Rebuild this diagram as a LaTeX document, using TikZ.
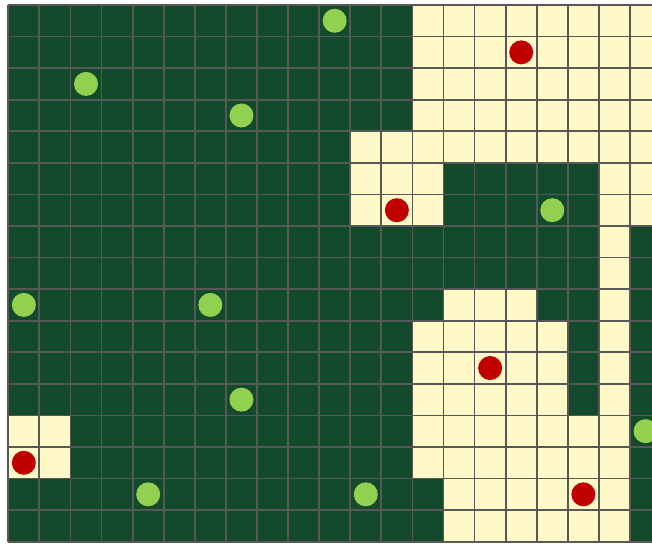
\documentclass[tikz,border=0pt]{standalone}
\definecolor{darkcell}{RGB}{20,74,44}
\definecolor{lightcell}{RGB}{255,249,199}
\definecolor{gridline}{RGB}{88,88,88}
\definecolor{greendot}{RGB}{146,208,80}
\definecolor{reddot}{RGB}{192,0,0}
\begin{document}
\begin{tikzpicture}[x=1pt,y=-1pt,
  gridstroke/.style={draw=gridline,line width=1.8pt},
  lightfill/.style={fill=lightcell},
  gdot/.style={fill=greendot},
  rdot/.style={fill=reddot}]
\def\cw{31.085}
\def\ch{31.57}
\def\ox{8.3}
\def\oy{5}
\useasboundingbox (0,0) rectangle (652,543);
\clip (0,0) rectangle (652,543);
\fill[white] (0,0) rectangle (652,543);
\fill[darkcell] (\ox,\oy) rectangle ({\ox+21*\cw},{\oy+17*\ch});
\foreach \r/\cols in {0/{13,...,20},1/{13,...,20},2/{13,...,20},3/{13,...,20},
  4/{11,...,20},5/{11,12,13,19,20},6/{11,12,13,19,20},7/{19},8/{19},
  9/{14,15,16,19},10/{13,14,15,16,17,19},11/{13,14,15,16,17,19},12/{13,14,15,16,17,19},
  13/{0,1,13,14,15,16,17,18,19},14/{0,1,13,14,15,16,17,18,19},
  15/{14,15,16,17,18,19},16/{14,15,16,17,18,19}}{
  \foreach \c in \cols {
    \fill[lightfill] ({\ox+\c*\cw},{\oy+\r*\ch}) rectangle ++(\cw,\ch);
  }
}
\foreach \i in {0,...,21}{
  \draw[gridstroke] ({\ox+\i*\cw},\oy) -- ++(0,{17*\ch});
}
\foreach \j in {0,...,17}{
  \draw[gridstroke] (\ox,{\oy+\j*\ch}) -- ++({21*\cw},0);
}
\foreach \c/\r in {10/0,2/2,7/3,17/6,0/9,6/9,7/12,20/13,4/15,11/15}{
  \fill[gdot] ({\ox+(\c+0.5)*\cw},{\oy+(\r+0.5)*\ch}) circle[radius=12pt];
}
\foreach \c/\r in {16/1,12/6,15/11,0/14,18/15}{
  \fill[rdot] ({\ox+(\c+0.5)*\cw},{\oy+(\r+0.5)*\ch}) circle[radius=12pt];
}
\end{tikzpicture}
\end{document}
